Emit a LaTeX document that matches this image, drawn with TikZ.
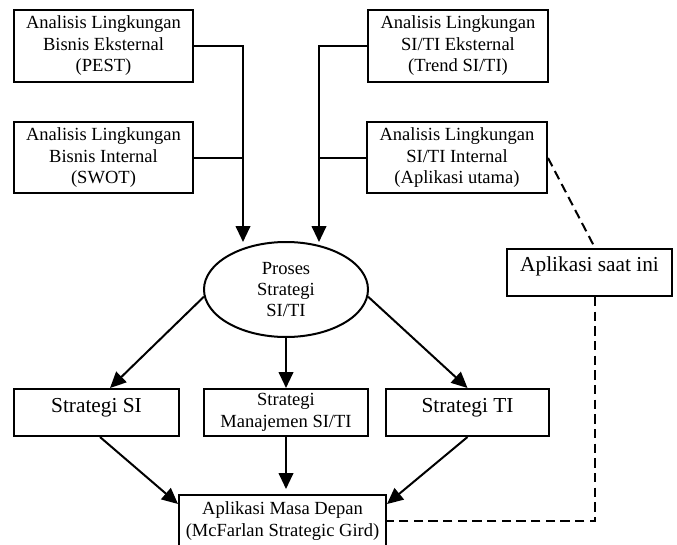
\documentclass[tikz,border=0pt]{standalone}
\usepackage{fontspec}
\setmainfont{Liberation Serif}
\usetikzlibrary{arrows.meta,shapes.geometric,calc}
\begin{document}
\begin{tikzpicture}[x=0.75pt,y=-0.75pt,
  line width=1.5pt,
  smallfont/.style={font=\fontsize{13.9pt}{16.1pt}\selectfont},
  bigfont/.style={font=\fontsize{16pt}{19pt}\selectfont},
  box/.style={draw, rectangle, inner sep=0pt, align=center, smallfont},
  bigbox/.style={draw, rectangle, inner sep=0pt, align=center, bigfont},
  arr/.style={-{Triangle[length=12pt,width=11pt]}},
  dashline/.style={dash pattern=on 7pt off 4pt}
]
\useasboundingbox[fill=white] (0,0) rectangle (677,545);

% top-left boxes
\node[box, minimum width=134.25pt, minimum height=54pt] (b1) at (103.5,46)
  {Analisis Lingkungan\\Bisnis Eksternal\\(PEST)};
\node[box, minimum width=134.25pt, minimum height=53.25pt] (b2) at (103.5,158)
  {Analisis Lingkungan\\Bisnis Internal\\(SWOT)};
% top-right boxes
\node[box, minimum width=135pt, minimum height=54pt] (b3) at (458,46)
  {Analisis Lingkungan\\SI/TI Eksternal\\(Trend SI/TI)};
\node[box, minimum width=135pt, minimum height=53.25pt] (b4) at (457,158)
  {Analisis Lingkungan\\SI/TI Internal\\(Aplikasi utama)};

% ellipse
\node[draw, ellipse, inner sep=0pt, minimum width=123pt, minimum height=71.25pt,
  align=center, smallfont] (ell) at (286,289.5) {Proses\\Strategi\\SI/TI};

% current applications
\node[bigbox, minimum width=123.75pt, minimum height=35.25pt] (as) at (589.5,272.5)
  {Aplikasi saat ini\\[-6.5pt]~};

% strategy boxes
\node[bigbox, minimum width=123.75pt, minimum height=35.25pt] (ssi) at (96.5,412.5)
  {Strategi SI\\[-8pt]~};
\node[box, minimum width=123pt, minimum height=35.25pt] (smj) at (286,412.5)
  {Strategi\\Manajemen SI/TI};
\node[bigbox, minimum width=122.25pt, minimum height=35.25pt] (sti) at (467.5,412.5)
  {Strategi TI\\[-8pt]~};

% future applications
\node[box, minimum width=155.25pt, minimum height=49.5pt] (amd) at (282.5,528)
  {Aplikasi Masa Depan\\(McFarlan Strategic Gird)\\[-3pt]~};

% helper coordinates
\coordinate (tipL) at (243,242);
\coordinate (tipR) at (319,242);
\coordinate (dx) at (595,521);

% top connectors
\draw[arr] (b1.east) -| (tipL);
\draw (b2.east) -- (b2.east -| tipL);
\draw[arr] (b3.west) -| (tipR);
\draw (b4.west) -- (b4.west -| tipR);

% ellipse to strategies
\draw[arr] (ell.185) -- ($(ssi.north)+(13.5,0)$);
\draw[arr] (ell.south) -- (smj.north);
\draw[arr] (ell.355) -- (sti.north);

% strategies to future applications
\draw[arr] ($(ssi.south)+(3.5,0)$) -- ($(amd.north west)+(0,10)$);
\draw[arr] (smj.south) -- ($(smj.south)+(0,52)$);
\draw[arr] (sti.south) -- ($(amd.north east)+(0,10)$);

% dashed links
\draw[dashline] (b4.east) -- (as.north -| dx);
\draw[dashline] (as.south -| dx) -- (dx) -- (amd.east |- dx);
\end{tikzpicture}
\end{document}
